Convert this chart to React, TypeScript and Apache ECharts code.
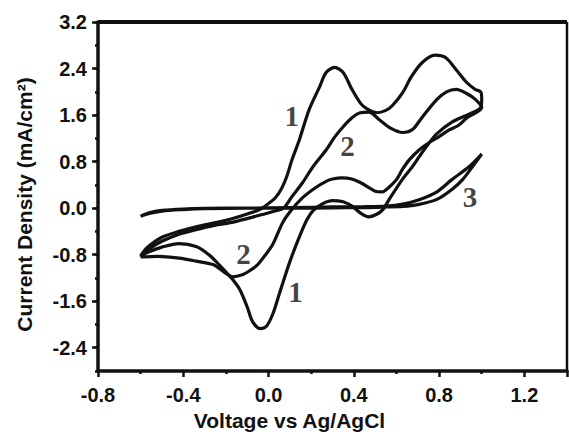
import React, { useEffect, useRef } from "react";
import * as echarts from "echarts";

// Axis ranges and ticks
const X_MIN = -0.8;
const X_MAX = 1.4;
const X_STEP = 0.4;
const Y_MIN = -2.8;
const Y_MAX = 3.2;
const Y_MINOR_STEP = 0.4;
const Y_LABEL_MIN = -2.4;
const Y_LABEL_STEP = 0.8;

const X_TITLE = "Voltage vs Ag/AgCl";
const Y_TITLE = "Current Density (mA/cm²)";

// Curve 1 (largest)
const curve1Forward: [number, number][] = [
  [-0.6, -0.82], [-0.57, -0.68], [-0.5, -0.5], [-0.42, -0.4], [-0.34, -0.32], [-0.25, -0.25],
  [-0.18, -0.19], [-0.1, -0.1], [-0.04, -0.02], [0.0, 0.08], [0.03, 0.17], [0.06, 0.33],
  [0.085, 0.54], [0.11, 0.83], [0.145, 1.18], [0.19, 1.69], [0.24, 2.09], [0.27, 2.33],
  [0.31, 2.42], [0.35, 2.33], [0.39, 2.05], [0.43, 1.81], [0.46, 1.71], [0.51, 1.64],
  [0.55, 1.68], [0.58, 1.76], [0.63, 1.99], [0.67, 2.26], [0.72, 2.5], [0.78, 2.63],
  [0.83, 2.59], [0.88, 2.38], [0.93, 2.16], [0.97, 2.04], [0.995, 2.0], [1.0, 1.88],
];
const curve1Reverse: [number, number][] = [
  [0.995, 1.73], [0.93, 1.6], [0.86, 1.48], [0.79, 1.28], [0.745, 1.08], [0.706, 0.88],
  [0.674, 0.71], [0.627, 0.49], [0.566, 0.15], [0.535, -0.03], [0.505, -0.11], [0.47, -0.15],
  [0.43, -0.08], [0.39, 0.04], [0.35, 0.11], [0.3, 0.13], [0.25, 0.07], [0.21, -0.04],
  [0.18, -0.2], [0.145, -0.49], [0.1, -0.92], [0.05, -1.48], [0.02, -1.82], [-0.01, -2.03],
  [-0.04, -2.07], [-0.075, -1.95], [-0.1, -1.7], [-0.135, -1.4], [-0.17, -1.22], [-0.2, -1.1],
  [-0.23, -0.98], [-0.28, -0.8], [-0.34, -0.66], [-0.42, -0.61], [-0.5, -0.67], [-0.56, -0.75],
  [-0.6, -0.82],
];

// Curve 2 (middle)
const curve2Forward: [number, number][] = [
  [-0.6, -0.84], [-0.56, -0.7], [-0.5, -0.57], [-0.42, -0.45], [-0.34, -0.37], [-0.26, -0.3],
  [-0.18, -0.25], [-0.1, -0.18], [-0.03, -0.11], [0.03, -0.05], [0.07, 0.0], [0.11, 0.2],
  [0.16, 0.44], [0.21, 0.72], [0.27, 1.0], [0.31, 1.22], [0.35, 1.4], [0.39, 1.55],
  [0.43, 1.64], [0.47, 1.65], [0.52, 1.52], [0.57, 1.38], [0.63, 1.3], [0.675, 1.35],
  [0.72, 1.56], [0.79, 1.87], [0.835, 2.0], [0.88, 2.04], [0.925, 1.98], [0.97, 1.87],
  [1.0, 1.73],
];
const curve2Reverse: [number, number][] = [
  [0.93, 1.55], [0.89, 1.42], [0.84, 1.33], [0.8, 1.23], [0.75, 1.12], [0.706, 1.0],
  [0.66, 0.83], [0.627, 0.66], [0.6, 0.49], [0.565, 0.36], [0.533, 0.28], [0.5, 0.29],
  [0.473, 0.35], [0.43, 0.44], [0.39, 0.5], [0.346, 0.52], [0.3, 0.5], [0.27, 0.46],
  [0.22, 0.35], [0.16, 0.18], [0.11, -0.02], [0.066, -0.25], [0.02, -0.62], [-0.02, -0.83],
  [-0.056, -0.99], [-0.09, -1.08], [-0.12, -1.14], [-0.17, -1.18], [-0.2, -1.12], [-0.23, -1.04],
  [-0.26, -0.97], [-0.34, -0.91], [-0.42, -0.86], [-0.52, -0.83], [-0.6, -0.84],
];

// Curve 3 (flat)
const curve3Forward: [number, number][] = [
  [-0.6, -0.14], [-0.56, -0.08], [-0.5, -0.04], [-0.4, -0.015], [-0.3, -0.005], [-0.1, 0.0],
  [0.1, 0.0], [0.3, 0.005], [0.45, 0.01], [0.55, 0.02], [0.63, 0.03], [0.7, 0.06],
  [0.79, 0.15], [0.86, 0.32], [0.91, 0.49], [0.97, 0.78], [1.0, 0.93],
];
const curve3Reverse: [number, number][] = [
  [0.94, 0.71], [0.86, 0.49], [0.79, 0.28], [0.71, 0.15], [0.63, 0.07], [0.55, 0.035],
  [0.45, 0.025], [0.3, 0.02], [0.1, 0.01], [-0.1, 0.0], [-0.3, -0.01], [-0.4, -0.025],
  [-0.5, -0.05], [-0.56, -0.09], [-0.6, -0.14],
];

// Curve number annotations (data coordinates)
const curveLabelNames = ["1", "1", "2", "2", "3"];
const curveLabelPos: [number, number][] = [
  [0.109, 1.59], [0.126, -1.45], [0.37, 1.06], [-0.117, -0.78], [0.945, 0.2],
];

const INK = "#111111";
const SANS = "'Liberation Sans', Arial, sans-serif";
const SERIF = "'Liberation Serif', 'Times New Roman', serif";

export default function App() {
  const ref = useRef<HTMLDivElement>(null);

  useEffect(() => {
    if (!ref.current) return;
    const chart = echarts.init(ref.current, undefined, { renderer: "svg" });

    const fmt = (v: number) => (Math.abs(v) < 1e-9 ? "0.0" : v.toFixed(1));
    const lineSeries = (data: [number, number][]) => ({
      type: "line",
      xAxisIndex: 0,
      yAxisIndex: 0,
      data,
      showSymbol: false,
      symbol: "none",
      smooth: 0.3,
      silent: true,
      lineStyle: { color: INK, width: 3.2 },
      z: 3,
    });

    chart.setOption({
      animation: false,
      backgroundColor: "#ffffff",
      grid: [
        { left: 98, right: 2, top: 22, bottom: 66, show: false },
        { left: 98, right: 2, top: 22, bottom: 89.27, show: false },
      ],
      xAxis: [
        {
          gridIndex: 0,
          type: "value",
          min: X_MIN,
          max: X_MAX,
          interval: X_STEP,
          axisLine: { show: true, onZero: false, lineStyle: { color: INK, width: 3.5 } },
          axisTick: { show: true, length: 6, lineStyle: { color: INK, width: 2.5 } },
          minorTick: { show: true, splitNumber: 2, length: 3, lineStyle: { color: INK, width: 2.5 } },
          splitLine: { show: false },
          axisLabel: {
            show: true, margin: 14, fontSize: 20, fontWeight: "bold", fontFamily: SANS,
            color: INK, showMaxLabel: false, formatter: fmt,
          },
          name: X_TITLE,
          nameLocation: "middle",
          nameGap: 35,
          nameTextStyle: {
            fontSize: 21, fontWeight: "bold", fontFamily: SANS, color: INK, padding: [0, 86, 0, 0],
          },
        },
        { gridIndex: 1, type: "value", min: X_MIN, max: X_MAX, show: false, axisLine: { onZero: false } },
      ],
      yAxis: [
        {
          gridIndex: 0,
          type: "value",
          min: Y_MIN,
          max: Y_MAX,
          interval: Y_MINOR_STEP,
          axisLine: { show: true, onZero: false, lineStyle: { color: INK, width: 3.5 } },
          axisTick: { show: true, length: 3, lineStyle: { color: INK, width: 2.5 } },
          axisLabel: { show: false },
          splitLine: { show: false },
          name: Y_TITLE,
          nameLocation: "middle",
          nameGap: 63,
          nameTextStyle: {
            fontSize: 21, fontWeight: "bold", fontFamily: SANS, color: INK, padding: [0, 16, 0, 0],
          },
        },
        {
          gridIndex: 1,
          type: "value",
          min: Y_LABEL_MIN,
          max: Y_MAX,
          interval: Y_LABEL_STEP,
          axisLine: { show: false, onZero: false },
          axisTick: { show: true, length: 6, lineStyle: { color: INK, width: 2.5 } },
          axisLabel: {
            show: true, margin: 11, fontSize: 20, fontWeight: "bold", fontFamily: SANS,
            color: INK, formatter: fmt,
          },
          splitLine: { show: false },
        },
      ],
      series: [
        lineSeries(curve1Forward.concat(curve1Reverse)),
        lineSeries(curve2Forward.concat(curve2Reverse)),
        lineSeries(curve3Forward.concat(curve3Reverse)),
        {
          type: "scatter",
          xAxisIndex: 0,
          yAxisIndex: 0,
          symbolSize: 1,
          silent: true,
          itemStyle: { color: "rgba(0,0,0,0)" },
          data: curveLabelPos.map((p, i) => ({ name: curveLabelNames[i], value: p })),
          label: {
            show: true, position: "inside", formatter: "{b}", fontFamily: SERIF,
            fontWeight: "bold", fontSize: 29, color: INK, textBorderWidth: 0,
          },
          z: 4,
        },
      ],
    });

    // Top and right frame sides, placed through the grid's own coordinate conversion
    const tl = chart.convertToPixel({ gridIndex: 0 }, [X_MIN, Y_MAX]) as number[];
    const br = chart.convertToPixel({ gridIndex: 0 }, [X_MAX, Y_MIN]) as number[];
    chart.setOption({
      graphic: [
        {
          type: "line",
          silent: true,
          z: 10,
          shape: { x1: tl[0], y1: tl[1], x2: br[0], y2: tl[1] },
          style: { stroke: INK, lineWidth: 4 },
        },
        {
          type: "line",
          silent: true,
          z: 10,
          shape: { x1: br[0], y1: tl[1], x2: br[0], y2: br[1] },
          style: { stroke: INK, lineWidth: 2.5 },
        },
      ],
    });

    return () => chart.dispose();
  }, []);

  return (
    <div
      ref={ref}
      style={{ position: "absolute", left: 0, top: 0, width: 569, height: 437, background: "#fff" }}
    />
  );
}
